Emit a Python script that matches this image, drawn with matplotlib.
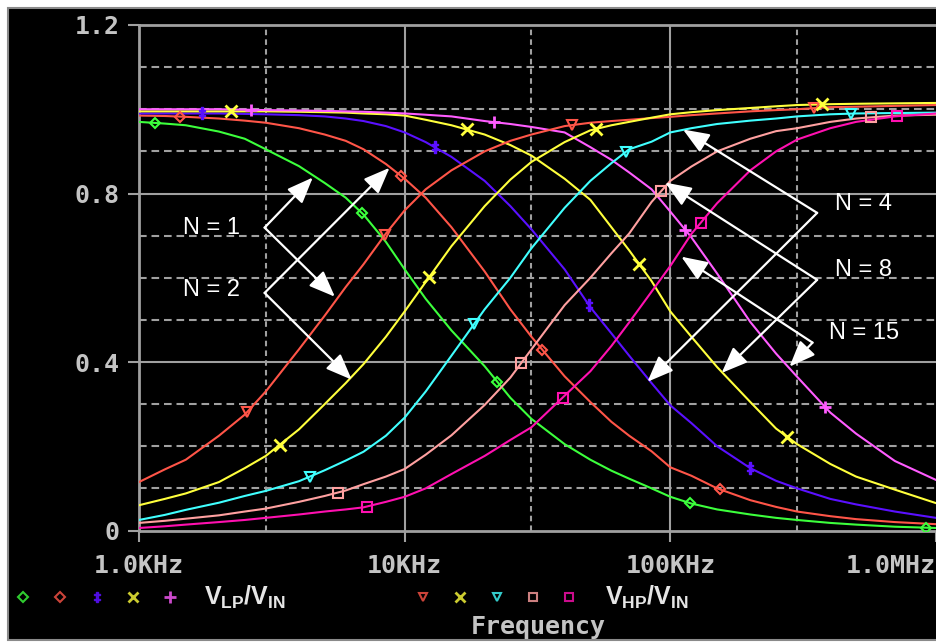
import matplotlib.pyplot as plt
from matplotlib.lines import Line2D
from matplotlib.patches import Rectangle
import numpy as np

plt.rcParams['lines.scale_dashes'] = False

W, H = 936, 642

# frequency points (Hz)
freq = [1e3, 1.25e3, 1.5e3, 2e3, 2.5e3, 3e3, 4e3, 5e3, 6e3, 7e3, 8.5e3, 10e3,
        12e3, 15e3, 20e3, 25e3, 30e3, 40e3, 50e3, 60e3, 70e3, 85e3, 100e3,
        120e3, 150e3, 200e3, 250e3, 300e3, 400e3, 500e3, 700e3, 1e6]

# V_LP / V_IN for N = 1, 2, 4, 8, 15
lp_n1 = [0.97, 0.966, 0.962, 0.947, 0.93, 0.905, 0.865, 0.825, 0.79, 0.75, 0.685, 0.62,
         0.55, 0.475, 0.39, 0.315, 0.265, 0.205, 0.168, 0.142, 0.123, 0.10, 0.08,
         0.064, 0.05, 0.038, 0.03, 0.025, 0.018, 0.014, 0.009, 0.006]
lp_n2 = [0.985, 0.984, 0.982, 0.978, 0.973, 0.968, 0.955, 0.94, 0.925, 0.905, 0.87, 0.835,
         0.79, 0.72, 0.615, 0.525, 0.46, 0.366, 0.305, 0.258, 0.225, 0.188, 0.15,
         0.13, 0.10, 0.072, 0.056, 0.045, 0.034, 0.027, 0.02, 0.015]
lp_n4 = [0.99, 0.99, 0.99, 0.99, 0.989, 0.988, 0.986, 0.983, 0.978, 0.972, 0.96, 0.945,
         0.922, 0.887, 0.83, 0.77, 0.715, 0.62, 0.53, 0.468, 0.415, 0.35, 0.297,
         0.255, 0.20, 0.148, 0.118, 0.10, 0.075, 0.062, 0.045, 0.03]
lp_n8 = [0.995, 0.995, 0.995, 0.995, 0.995, 0.995, 0.994, 0.993, 0.992, 0.99, 0.988, 0.985,
         0.975, 0.962, 0.94, 0.915, 0.89, 0.835, 0.785, 0.72, 0.665, 0.592, 0.52,
         0.46, 0.388, 0.305, 0.242, 0.205, 0.158, 0.128, 0.097, 0.065]
lp_n15 = [1.0, 1.0, 1.0, 1.0, 0.999, 0.998, 0.997, 0.996, 0.995, 0.994, 0.992, 0.99,
          0.987, 0.983, 0.972, 0.965, 0.958, 0.945, 0.91, 0.88, 0.85, 0.81, 0.757,
          0.696, 0.61, 0.495, 0.42, 0.365, 0.28, 0.23, 0.165, 0.12]

# V_HP / V_IN for N = 1, 2, 4, 8, 15
hp_n1 = [0.115, 0.145, 0.168, 0.225, 0.275, 0.33, 0.43, 0.51, 0.578, 0.632, 0.705, 0.76,
         0.81, 0.855, 0.90, 0.925, 0.94, 0.96, 0.968, 0.972, 0.975, 0.979, 0.982,
         0.986, 0.99, 0.995, 0.998, 1.0, 1.005, 1.006, 1.008, 1.01]
hp_n2 = [0.06, 0.075, 0.088, 0.115, 0.148, 0.177, 0.24, 0.30, 0.35, 0.395, 0.46, 0.52,
         0.59, 0.675, 0.77, 0.833, 0.875, 0.922, 0.95, 0.962, 0.97, 0.98, 0.988,
         0.993, 0.998, 1.003, 1.007, 1.01, 1.012, 1.013, 1.014, 1.015]
hp_n4 = [0.025, 0.037, 0.049, 0.066, 0.082, 0.094, 0.117, 0.143, 0.166, 0.187, 0.225, 0.268,
         0.33, 0.415, 0.525, 0.60, 0.67, 0.766, 0.83, 0.872, 0.905, 0.923, 0.945,
         0.955, 0.965, 0.973, 0.978, 0.983, 0.988, 0.99, 0.991, 0.992]
hp_n8 = [0.018, 0.023, 0.028, 0.036, 0.045, 0.052, 0.068, 0.082, 0.095, 0.11, 0.128, 0.146,
         0.18, 0.226, 0.298, 0.363, 0.43, 0.535, 0.60, 0.658, 0.705, 0.78, 0.83,
         0.864, 0.90, 0.93, 0.948, 0.955, 0.97, 0.978, 0.985, 0.987]
hp_n15 = [0.006, 0.01, 0.014, 0.02, 0.025, 0.03, 0.038, 0.045, 0.05, 0.055, 0.068, 0.08,
          0.10, 0.134, 0.177, 0.215, 0.245, 0.32, 0.378, 0.438, 0.494, 0.567, 0.628,
          0.704, 0.777, 0.855, 0.90, 0.928, 0.955, 0.97, 0.983, 0.99]

# where the PSpice trace symbols sit (Hz)
mk_lp_n1 = [1.15e3, 6.9e3, 22.3e3, 119e3, 920e3]
mk_lp_n2 = [1.43e3, 9.7e3, 33e3, 154e3]
mk_lp_n4 = [1.72e3, 13e3, 49.4e3, 199e3]
mk_lp_n8 = [2.22e3, 17.1e3, 76.4e3, 275e3]
mk_lp_n15 = [2.64e3, 21.7e3, 114e3, 382e3]
mk_hp_n1 = [2.55e3, 8.4e3, 42.8e3, 347e3]
mk_hp_n2 = [3.39e3, 12.4e3, 52.7e3, 371e3]
mk_hp_n4 = [4.39e3, 18.3e3, 68.2e3, 478e3]
mk_hp_n8 = [5.6e3, 27.5e3, 92.4e3, 570e3]
mk_hp_n15 = [7.2e3, 39.3e3, 130e3, 712e3]

GREEN = '#3cff3c'
RED = '#ff5548'
BLUE = '#5a10ff'
YELLOW = '#ffff3c'
VIOLET = '#ff5cff'
CYAN = '#40ffff'
SALMON = '#ffa0a0'
PINK = '#ff10b0'
GRID = '#a0a0a0'
TXT = '#c4c4c4'

DAGGER = '$\u2021$'

lp_series = [
    (lp_n1, GREEN, 'D', mk_lp_n1),
    (lp_n2, RED, 'D', mk_lp_n2),
    (lp_n4, BLUE, DAGGER, mk_lp_n4),
    (lp_n8, YELLOW, 'x', mk_lp_n8),
    (lp_n15, VIOLET, '+', mk_lp_n15),
]
hp_series = [
    (hp_n1, RED, 'v', mk_hp_n1),
    (hp_n2, YELLOW, 'x', mk_hp_n2),
    (hp_n4, CYAN, 'v', mk_hp_n4),
    (hp_n8, SALMON, 's', mk_hp_n8),
    (hp_n15, PINK, 's', mk_hp_n15),
]

MSIZE = {'D': 5.5, 'v': 7, 's': 6.5, 'x': 8, '+': 9, DAGGER: 8}


def marker_kw(m, color, scale=1.0):
    kw = dict(marker=m, markersize=MSIZE[m] * scale, linestyle='none', color=color)
    if m in ('D', 'v', 's'):
        kw.update(markerfacecolor='none', markeredgecolor=color, markeredgewidth=1.5)
    elif m in ('x', '+'):
        kw.update(markeredgewidth=2)
    return kw


fig = plt.figure(figsize=(W / 100, H / 100), dpi=100, facecolor='white')
fig.patches.append(Rectangle((8 / W, 2 / H), 1, (H - 10) / H, transform=fig.transFigure,
                             facecolor='black', edgecolor='#8a8a8a', lw=1.5, zorder=-10))

ax = fig.add_axes([139 / W, (H - 530.5) / H, (936 - 139) / W, (530.5 - 25) / H])
ax.set_facecolor('black')
ax.set_xscale('log')
ax.set_xlim(1e3, 1e6)
ax.set_ylim(0, 1.2)

# grid, as drawn by probe
for v in [0.4, 0.8]:
    ax.axhline(v, color=GRID, lw=1.5, zorder=1)
for v in [0.1, 0.2, 0.3, 0.5, 0.6, 0.7, 0.9, 1.0, 1.1]:
    ax.axhline(v, color=GRID, lw=1.5, dashes=(5.5, 3.5), zorder=1)
for f in [1e4, 1e5]:
    ax.axvline(f, color=GRID, lw=1.5, zorder=1)
for f in [3e3, 3e4, 3e5]:
    ax.axvline(f, color=GRID, lw=1.5, dashes=(4, 3), zorder=1)

logf = np.log10(freq)
for vals, color, m, mf in lp_series + hp_series:
    ax.plot(freq, vals, color=color, lw=1.5, zorder=3)
    my = np.interp(np.log10(mf), logf, vals)
    ax.plot(mf, my, zorder=4, **marker_kw(m, color))

for side in ['left', 'bottom', 'top']:
    ax.spines[side].set_color(GRID)
    ax.spines[side].set_linewidth(2)
ax.spines['right'].set_visible(False)

mono = dict(family='DejaVu Sans Mono', weight='bold', size=18)
ax.set_xticks([1e3, 1e4, 1e5, 1e6])
ax.set_xticklabels(['1.0KHz', '10KHz', '100KHz', '1.0MHz'], **mono)
ax.xaxis.set_minor_locator(plt.NullLocator())
ax.set_yticks([0, 0.4, 0.8, 1.2])
ax.set_yticklabels(['0', '0.4', '0.8', '1.2'], **mono)
ax.tick_params(direction='out', length=8, width=1.5, color=GRID, labelcolor=TXT)
ax.tick_params(axis='x', pad=9)
ax.tick_params(axis='y', pad=6)
ax.get_xticklabels()[-1].set_ha('right')

# N = ... call-outs with two arrows each
callouts = [
    ('N = 1', (1.46e3, 0.719), (2.97e3, 0.719), [(4.51e3, 0.838), (5.46e3, 0.555)]),
    ('N = 2', (1.46e3, 0.571), (2.97e3, 0.564), [(8.77e3, 0.861), (6.32e3, 0.358)]),
    ('N = 4', (418e3, 0.774), (357e3, 0.754), [(111.6e3, 0.952), (82e3, 0.353)]),
    ('N = 8', (418e3, 0.619), (357e3, 0.595), [(95.6e3, 0.826), (156e3, 0.374)]),
    ('N = 15', (397e3, 0.469), (343e3, 0.446), [(110e3, 0.650), (281e3, 0.389)]),
]
for label, tpos, vertex, tips in callouts:
    ax.text(tpos[0], tpos[1], label, color='white', fontsize=17,
            family='Liberation Sans', va='center', ha='left', zorder=6)
    for tip in tips:
        ax.annotate('', xy=tip, xytext=vertex, zorder=5,
                    arrowprops=dict(arrowstyle='-|>,head_length=0.8,head_width=0.32',
                                    mutation_scale=20, color='white', lw=1.6,
                                    shrinkA=0, shrinkB=0))

# legend row under the axis (symbols drawn a bit smaller there)
ly = (H - 597) / H
lp_x = [23, 60, 97, 133, 170]
hp_x = [423, 460, 497, 533, 569]
for (vals, color, m, mf), x in zip(lp_series, lp_x):
    fig.add_artist(Line2D([x / W], [ly], transform=fig.transFigure, alpha=0.8,
                          **marker_kw(m, color, 0.9)))
for (vals, color, m, mf), x in zip(hp_series, hp_x):
    fig.add_artist(Line2D([x / W], [ly], transform=fig.transFigure, alpha=0.8,
                          **marker_kw(m, color, 0.9)))
fig.text(204 / W, ly, r'$\mathregular{V_{LP}/V_{IN}}$', color='#e6e6e6', fontsize=18,
         family='Liberation Sans', weight='bold', va='center', ha='left')
fig.text(605 / W, ly, r'$\mathregular{V_{HP}/V_{IN}}$', color='#e6e6e6', fontsize=18,
         family='Liberation Sans', weight='bold', va='center', ha='left')
fig.text(538 / W, (H - 627) / H, 'Frequency', color=TXT, ha='center', va='center', **mono)

fig.savefig('out.png', dpi=100, facecolor=fig.get_facecolor())
